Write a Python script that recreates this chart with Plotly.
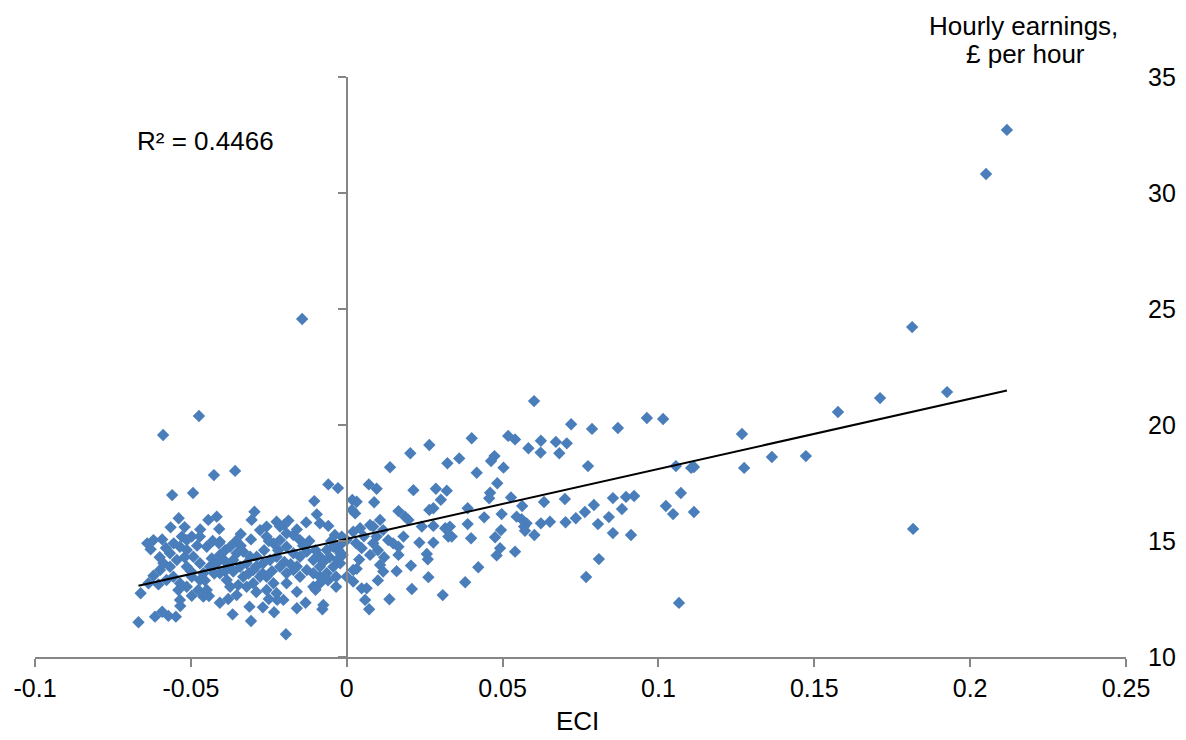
import numpy as np
import plotly.graph_objects as go

# ECI values (x) and hourly earnings, £ per hour (y)
eci = [
    0.2118, 0.2051, 0.1814, 0.1926, 0.1711, 0.1576, 0.1473, 0.1364, 0.1268, 0.1275,
    0.1817, 0.1114, 0.1105, 0.1056, 0.1015, 0.0963, 0.0870, 0.0787, 0.0774, 0.0854,
    0.0896, 0.0922, 0.0793, 0.0764, 0.0883, 0.0841, 0.0806, 0.1024, 0.1072, 0.1047,
    0.1114, 0.0854, 0.0912, 0.0809, 0.0768, 0.1066,
    -0.0143, -0.0474, -0.0589, 0.0601, -0.0426, -0.0358, -0.0493, -0.0560,
    0.0720, 0.0401, 0.0518, 0.0540, 0.0623, 0.0671, 0.0706, 0.0583, 0.0622, 0.0682,
    0.0265, 0.0204, 0.0361, 0.0323, 0.0474, 0.0463, 0.0503, 0.0139, 0.0417, 0.0071,
    0.0096, 0.0214, 0.0286, 0.0321, 0.0483, 0.0302, 0.0460, 0.0457, 0.0527, 0.0018,
    0.0032, 0.0088, 0.0017, 0.0027, -0.0028, 0.0166, 0.0187, 0.0198, 0.0265, 0.0278,
    0.0388, 0.0563, 0.0633, 0.0700, 0.0441, 0.0497, 0.0545, 0.0561, 0.0577, 0.0569,
    0.0623, 0.0652, 0.0702, 0.0735, 0.0241, 0.0278, 0.0316, 0.0331, 0.0326, 0.0337,
    0.0388, 0.0399, 0.0495, 0.0572, 0.0602, 0.0233, 0.0278, 0.0182, 0.0476, 0.0492,
    0.0481, 0.0540, 0.0257, 0.0260, 0.0206, 0.0422, 0.0262, 0.0380, 0.0209, 0.0308,
    0.0137, 0.0021, 0.0043, 0.0075, 0.0085, 0.0107, 0.0117, 0.0096, 0.0085, 0.0133,
    0.0149, 0.0166, 0.0166, 0.0075, 0.0048, 0.0000, -0.0016, -0.0021, 0.0021, 0.0032,
    0.0021, 0.0048, 0.0064, 0.0059, 0.0072, 0.0117, 0.0107,
    -0.0059, -0.0104, -0.0539, -0.0565, -0.0296, -0.0305, -0.0409, -0.0620, -0.0592, -0.0629,
    -0.0407, -0.0307, -0.0257, -0.0225, -0.0187, -0.0214, -0.0096, -0.0086, -0.0059, -0.0038,
    -0.0027, -0.0013, 0.0000, -0.0034, -0.0034, -0.0075, -0.0078, -0.0132, -0.0160, -0.0195,
    -0.0233, -0.0269, -0.0307, -0.0366, -0.0203, -0.0223, -0.0312, -0.0407, -0.0442, -0.0534,
    -0.0548, -0.0572, -0.0592, -0.0615, -0.0668, -0.0661, -0.0636, -0.0604, -0.0497, -0.0476,
    -0.0353, -0.0348, -0.0160, -0.0107, -0.0086, -0.0529, -0.0497, -0.0471, -0.0449, -0.0567,
    -0.0545, -0.0567, -0.0556, -0.0513, -0.0492, -0.0471, -0.0513, -0.0497, -0.0540, -0.0535,
    -0.0513, -0.0471, -0.0449, -0.0460, -0.0439, -0.0433, -0.0417, -0.0407, -0.0374, -0.0353,
    -0.0332, -0.0310, -0.0364, -0.0342, -0.0321, -0.0407, -0.0385, -0.0364, -0.0332, -0.0300,
    -0.0278, -0.0300, -0.0321, -0.0374, -0.0289, -0.0268, -0.0246, -0.0225, -0.0278, -0.0257,
    -0.0235, -0.0214, -0.0193, -0.0171, -0.0150, -0.0193, -0.0171, -0.0150, -0.0128, -0.0107,
    -0.0086, -0.0064, -0.0043, -0.0021, -0.0214, -0.0193, -0.0171, -0.0150, -0.0128, -0.0107,
    -0.0086, -0.0064, -0.0043, -0.0021, -0.0257, -0.0235, -0.0257, -0.0225, -0.0193, -0.0588,
    -0.0599, -0.0578, -0.0444, -0.0417, -0.0535, -0.0513, -0.0535, -0.0086,
    -0.0555, -0.0520, -0.0480, -0.0455, -0.0425, -0.0395, -0.0380, -0.0355, -0.0340, -0.0315,
    -0.0290, -0.0265, -0.0240, -0.0220, -0.0200, -0.0180, -0.0160, -0.0140, -0.0120, -0.0100,
    -0.0075, -0.0055, -0.0030, -0.0500, -0.0580, -0.0600, -0.0430, -0.0390, -0.0250, -0.0160,
    -0.0130, -0.0050, 0.0030, 0.0055, 0.0100, 0.0120, 0.0040, -0.0460, -0.0380, -0.0290,
    -0.0250, -0.0100, -0.0410, -0.0470, -0.0340, -0.0200, 0.0160, 0.0100, -0.0620, -0.0640,
    -0.0520, -0.0390, -0.0270, -0.0060,
]

earnings = [
    32.72, 30.82, 24.22, 21.42, 21.16, 20.56, 18.66, 18.62, 19.61, 18.15,
    15.52, 18.19, 18.15, 18.23, 20.26, 20.30, 19.87, 19.83, 18.23, 16.85,
    16.90, 16.94, 16.55, 16.25, 16.38, 16.03, 15.73, 16.51, 17.07, 16.16,
    16.25, 15.34, 15.26, 14.22, 13.45, 12.33,
    24.57, 20.39, 19.57, 21.03, 17.84, 18.02, 17.07, 16.98,
    20.03, 19.43, 19.53, 19.38, 19.32, 19.27, 19.21, 19.00, 18.81, 18.78,
    19.14, 18.78, 18.56, 18.35, 18.66, 18.45, 18.16, 18.18, 17.94, 17.44,
    17.25, 17.19, 17.25, 17.17, 17.49, 16.78, 17.08, 16.84, 16.88, 16.77,
    16.69, 16.67, 16.34, 16.19, 17.28, 16.29, 16.05, 15.91, 16.34, 16.41,
    16.41, 16.51, 16.68, 16.81, 16.02, 16.16, 16.05, 15.94, 15.76, 15.62,
    15.76, 15.83, 15.81, 15.98, 15.62, 15.65, 15.55, 15.62, 15.19, 15.19,
    15.73, 15.12, 15.47, 15.44, 15.26, 14.93, 14.93, 15.19, 15.16, 14.69,
    14.38, 14.54, 14.44, 14.21, 13.94, 13.87, 13.44, 13.22, 12.93, 12.67,
    12.49, 15.40, 15.55, 15.69, 15.62, 15.91, 15.47, 15.19, 14.90, 15.04,
    14.90, 14.75, 14.40, 14.40, 14.69, 15.04, 15.19, 14.47, 13.75, 13.80,
    13.25, 12.96, 12.96, 12.46, 12.06, 13.68, 13.97,
    17.44, 16.72, 15.98, 15.59, 16.26, 15.91, 15.52, 15.04, 15.07, 14.64,
    14.97, 15.07, 15.62, 15.83, 15.88, 15.62, 16.15, 15.76, 15.65, 15.26,
    14.61, 14.40, 13.46, 13.46, 13.03, 12.24, 12.06, 12.34, 12.10, 10.98,
    11.93, 12.14, 11.55, 11.84, 12.46, 12.46, 12.17, 12.34, 12.63, 12.20,
    11.74, 11.77, 11.95, 11.74, 11.50, 12.75, 13.18, 13.13, 12.64, 12.89,
    12.67, 13.10, 12.81, 13.03, 13.18, 15.19, 15.19, 15.19, 14.75, 14.47,
    14.18, 13.89, 13.46, 14.61, 14.32, 14.04, 13.89, 13.46, 12.89, 13.18,
    13.03, 13.32, 12.89, 13.61, 13.89, 14.25, 14.04, 14.40, 14.75, 14.47,
    14.54, 14.32, 14.18, 13.89, 14.04, 13.61, 13.32, 13.68, 13.46, 13.75,
    13.46, 13.18, 13.03, 13.03, 14.32, 14.04, 14.18, 14.32, 15.47, 15.19,
    14.90, 15.04, 15.33, 15.26, 15.04, 14.75, 14.47, 14.32, 14.54, 14.18,
    14.32, 14.61, 14.75, 14.83, 13.89, 13.61, 13.75, 13.46, 13.75, 13.61,
    13.89, 13.61, 13.89, 14.04, 13.46, 13.18, 12.89, 12.75, 13.18, 14.04,
    13.75, 13.32, 15.91, 16.05, 14.75, 15.04, 12.46, 13.46,
    14.90, 14.30, 14.80, 13.30, 13.60, 14.20, 13.90, 15.00, 14.80, 13.60,
    13.90, 14.60, 13.70, 14.60, 14.10, 14.00, 13.90, 14.80, 15.00, 14.60,
    14.10, 14.30, 14.20, 13.70, 14.70, 14.30, 15.00, 14.60, 15.00, 15.50,
    15.80, 15.00, 14.90, 15.20, 14.60, 14.30, 14.20, 12.60, 12.50, 12.80,
    12.50, 12.90, 14.90, 15.50, 15.30, 15.70, 13.70, 13.30, 13.50, 14.90,
    15.60, 13.70, 13.60, 13.30,
]

x_tick_vals = [-0.1, -0.05, 0, 0.05, 0.1, 0.15, 0.2, 0.25]
x_tick_text = ["-0.1", "-0.05", "0", "0.05", "0.1", "0.15", "0.2", "0.25"]
y_tick_vals = [10, 15, 20, 25, 30, 35]
y_tick_text = ["10", "15", "20", "25", "30", "35"]
x_title = "ECI"
y_title_lines = ["Hourly earnings,", "£ per hour"]
r2_label = "R² = 0.4466"

FONT = "Arial, 'Liberation Sans', sans-serif"
AXIS_GREY = "#868686"
MARKER_BLUE = "#4A7EBB"
LABEL_SIZE = 26

x_arr = np.array(eci)
y_arr = np.array(earnings)
slope, intercept = np.polyfit(x_arr, y_arr, 1)
trend_x = [float(x_arr.min()), float(x_arr.max())]
trend_y = [intercept + slope * v for v in trend_x]

fig = go.Figure()
fig.add_trace(go.Scatter(
    x=eci, y=earnings, mode="markers",
    marker=dict(symbol="diamond", size=9.5, color=MARKER_BLUE, line=dict(width=0)),
    yaxis="y", showlegend=False, hoverinfo="x+y",
))
fig.add_trace(go.Scatter(
    x=trend_x, y=trend_y, mode="lines",
    line=dict(color="black", width=2),
    yaxis="y2", showlegend=False, hoverinfo="skip",
))

x_min, x_max = -0.1, 0.25
y_min, y_max = 10, 35
zero_pos = (0 - x_min) / (x_max - x_min)

# the page body adds an 8px offset, so the figure is 8px smaller than the window
fig.update_layout(
    width=1178, height=732,
    margin=dict(l=27, r=60, t=69, b=83),
    paper_bgcolor="white", plot_bgcolor="white",
    font=dict(family=FONT, size=25, color="black"),
    xaxis=dict(
        range=[x_min, x_max], tickvals=x_tick_vals, ticktext=x_tick_text,
        showline=True, linecolor=AXIS_GREY, linewidth=1.5,
        ticks="outside", ticklen=8, tickwidth=1.5, tickcolor=AXIS_GREY,
        showgrid=False, zeroline=False, anchor="y", automargin=False,
        tickfont=dict(size=25, family=FONT, color="black"),
    ),
    yaxis=dict(
        range=[y_min, y_max], tickvals=y_tick_vals, ticktext=y_tick_text,
        side="right", showline=False, ticks="", showgrid=False, zeroline=False,
        ticklabelstandoff=21, anchor="x", automargin=False,
        tickfont=dict(size=25, family=FONT, color="black"),
    ),
    yaxis2=dict(
        range=[y_min, y_max], tickvals=y_tick_vals, overlaying="y",
        anchor="free", position=zero_pos, side="left",
        showline=True, linecolor=AXIS_GREY, linewidth=1.5,
        ticks="outside", ticklen=8, tickwidth=1.5, tickcolor=AXIS_GREY,
        showticklabels=False, showgrid=False, zeroline=False, automargin=False,
    ),
    annotations=[
        dict(text=y_title_lines[0], xref="paper", yref="paper", x=0.9056, y=1.0879,
             xanchor="center", yanchor="middle", showarrow=False,
             font=dict(size=LABEL_SIZE, family=FONT, color="black")),
        dict(text=y_title_lines[1], xref="paper", yref="paper", x=0.9083, y=1.0397,
             xanchor="center", yanchor="middle", showarrow=False,
             font=dict(size=LABEL_SIZE, family=FONT, color="black")),
        dict(text=x_title, xref="paper", yref="paper", x=0.4968, y=-0.1103,
             xanchor="center", yanchor="middle", showarrow=False,
             font=dict(size=LABEL_SIZE, family=FONT, color="black")),
        dict(text=r2_label, xref="paper", yref="paper", x=0.0917, y=0.8897,
             xanchor="left", yanchor="middle", showarrow=False,
             font=dict(size=LABEL_SIZE, family=FONT, color="black")),
    ],
)

fig.write_html("out.html")
